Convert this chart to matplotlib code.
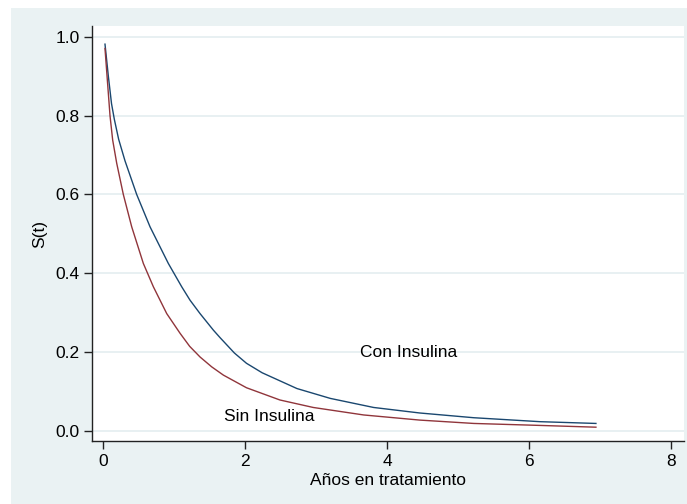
import matplotlib
matplotlib.use("agg")
import matplotlib.pyplot as plt
from matplotlib.patches import Rectangle

# values
t_con = [0.028, 0.075, 0.12, 0.16, 0.22, 0.31, 0.474, 0.662, 0.92, 1.108,
         1.225, 1.366, 1.554, 1.648, 1.85, 2.02, 2.24, 2.73, 3.2, 3.81, 4.46,
         5.22, 6.15, 6.94]
s_con = [0.981, 0.900, 0.830, 0.790, 0.740, 0.685, 0.600, 0.518, 0.425, 0.366,
         0.332, 0.298, 0.256, 0.237, 0.198, 0.172, 0.148, 0.108, 0.083, 0.060,
         0.046, 0.034, 0.024, 0.0195]

t_sin = [0.028, 0.061, 0.099, 0.136, 0.193, 0.286, 0.404, 0.568, 0.709, 0.897,
         1.085, 1.22, 1.366, 1.53, 1.695, 2.02, 2.49, 2.96, 3.67, 4.46, 5.22,
         6.15, 6.94]
s_sin = [0.970, 0.890, 0.799, 0.738, 0.679, 0.600, 0.518, 0.425, 0.366, 0.298,
         0.248, 0.215, 0.188, 0.163, 0.142, 0.110, 0.079, 0.060, 0.041, 0.028,
         0.0195, 0.0145, 0.010]

xticks = [0, 2, 4, 6, 8]
yticks = [0.0, 0.2, 0.4, 0.6, 0.8, 1.0]
ytick_labels = ["0.0", "0.2", "0.4", "0.6", "0.8", "1.0"]

plt.rcParams['font.family'] = ['Liberation Sans', 'DejaVu Sans']

bg = "#EAF2F3"
fs = 12.5
fig = plt.figure(figsize=(6.87, 5.04), dpi=100)
fig.patch.set_facecolor("white")
fig.add_artist(Rectangle((11 / 687, 0), 1 - 11 / 687, 496 / 504,
                         transform=fig.transFigure, facecolor=bg,
                         edgecolor="none", zorder=-10))

ax = fig.add_axes([92 / 687, 1 - 441 / 504, 592 / 687, 415 / 504])
ax.set_zorder(1)
ax.set_facecolor("white")

ax.plot(t_con, s_con, color="#1a476f", lw=1.0)
ax.plot(t_sin, s_sin, color="#90353b", lw=1.0)

ax.text(4.3, 0.2, "Con Insulina", fontsize=fs, ha="center", va="center")
ax.text(2.34, 0.038, "Sin Insulina", fontsize=fs, ha="center", va="center")

ax.set_xlim(-0.155, 8.18)
ax.set_ylim(-0.025, 1.027)
ax.set_xticks(xticks)
ax.set_yticks(yticks)
ax.set_yticklabels(ytick_labels)
ax.yaxis.grid(True, color="#E4EEF0", lw=1.2)
ax.set_axisbelow(True)

for s in ["top", "right"]:
    ax.spines[s].set_visible(False)
for s in ["left", "bottom"]:
    ax.spines[s].set_color("#222222")
    ax.spines[s].set_linewidth(1.0)

ax.tick_params(axis="both", direction="out", length=6, width=1.0,
               color="#222222", labelsize=fs, pad=3)

ax.set_xlabel(u"Años en tratamiento", fontsize=fs, labelpad=3)
ax.set_ylabel("S(t)", fontsize=fs, labelpad=6)

fig.savefig("out.png", dpi=100, facecolor=fig.get_facecolor())
